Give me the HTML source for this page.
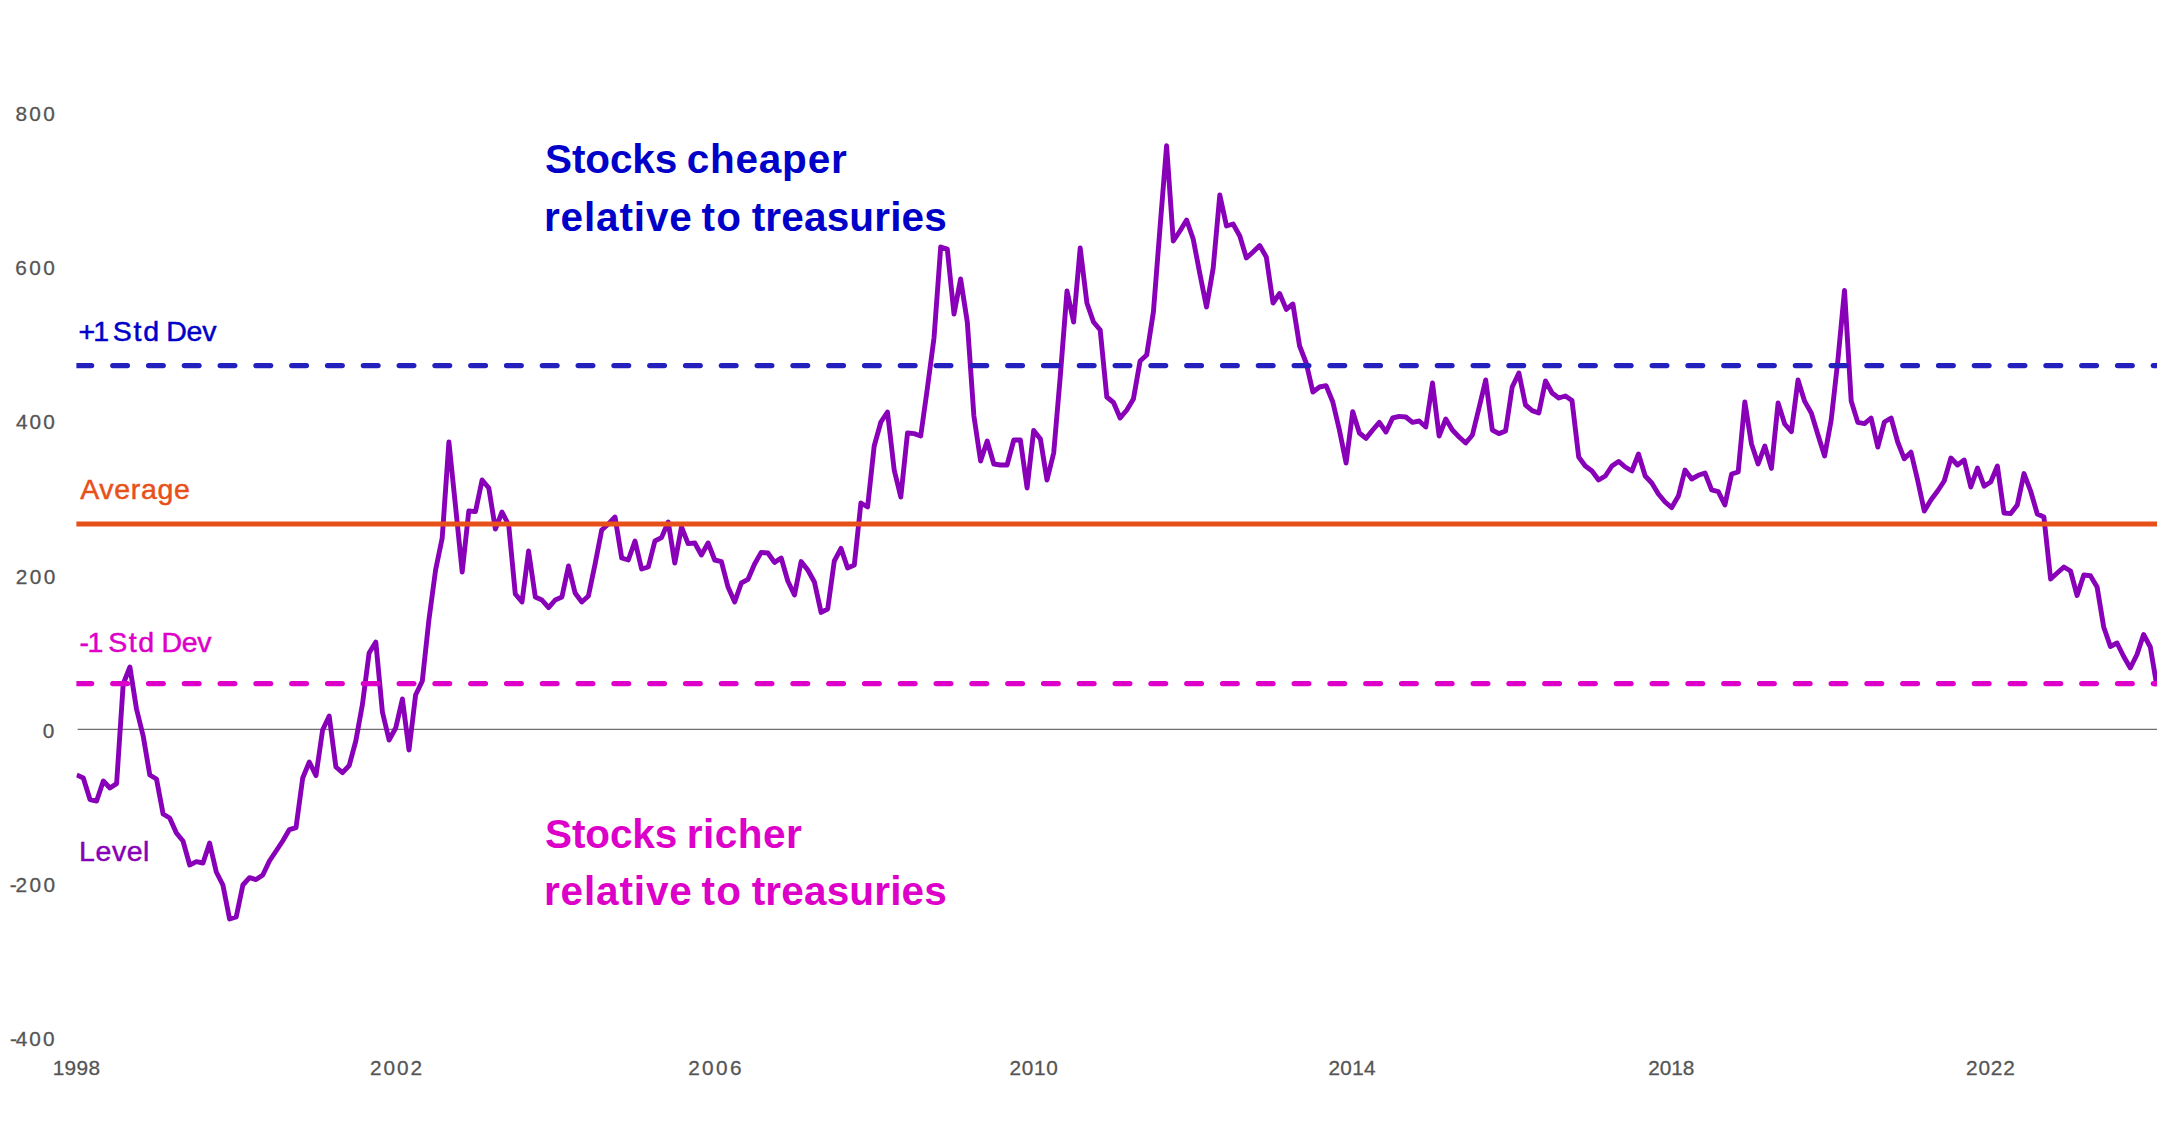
<!DOCTYPE html>
<html lang="en"><head><meta charset="utf-8"><title>Equity risk premium</title>
<style>
html,body{margin:0;padding:0;background:#fff;}
body{width:2160px;height:1131px;overflow:hidden;font-family:"Liberation Sans",sans-serif;}
svg{display:block;}
text{font-family:"Liberation Sans",sans-serif;white-space:pre;}
.ax{font-size:20.8px;stroke:#555555;stroke-width:0.3px;}
.lbl{font-size:28.5px;stroke-width:0.5px;}
.big{font-size:40.5px;font-weight:bold;}
</style></head><body>
<svg width="2160" height="1131" viewBox="0 0 2160 1131">
<defs><clipPath id="plot"><rect x="76.4" y="0" width="2080.6" height="1131"/></clipPath></defs>
<rect x="0" y="0" width="2160" height="1131" fill="#ffffff"/>
<line x1="77.6" y1="729.4" x2="2157" y2="729.4" stroke="#6e6e6e" stroke-width="1.4"/>
<text class="ax" y="121.2" fill="#555555"><tspan x="15.39" letter-spacing="2.387">800</tspan></text>
<text class="ax" y="275.3" fill="#555555"><tspan x="15.28" letter-spacing="2.444">600</tspan></text>
<text class="ax" y="429.4" fill="#555555"><tspan x="15.91" letter-spacing="2.13">400</tspan></text>
<text class="ax" y="583.5" fill="#555555"><tspan x="15.74" letter-spacing="2.413">200</tspan></text>
<text class="ax" y="737.6" fill="#555555"><tspan x="42.65" letter-spacing="0">0</tspan></text>
<text class="ax" x="9.74" y="891.7" fill="#555555"><tspan letter-spacing="-1.2">-</tspan><tspan letter-spacing="2.413">200</tspan></text>
<text class="ax" x="9.91" y="1045.8" fill="#555555"><tspan letter-spacing="-1.2">-</tspan><tspan letter-spacing="2.13">400</tspan></text>
<text class="ax" y="1075.4" fill="#555555"><tspan x="52.72" letter-spacing="0.324">1998</tspan></text>
<text class="ax" y="1075.4" fill="#555555"><tspan x="369.94" letter-spacing="1.932">2002</tspan></text>
<text class="ax" y="1075.4" fill="#555555"><tspan x="688.14" letter-spacing="2.37">2006</tspan></text>
<text class="ax" y="1075.4" fill="#555555"><tspan x="1009.44" letter-spacing="0.673">2010</tspan></text>
<text class="ax" y="1075.4" fill="#555555"><tspan x="1328.54" letter-spacing="0.258">2014</tspan></text>
<text class="ax" y="1075.4" fill="#555555"><tspan x="1648.14" letter-spacing="0.015">2018</tspan></text>
<text class="ax" y="1075.4" fill="#555555"><tspan x="1966.04" letter-spacing="0.799">2022</tspan></text>
<g clip-path="url(#plot)">
<polyline fill="none" stroke="#8800b8" stroke-width="4.9" stroke-linejoin="round" stroke-linecap="butt" points="76.7,775.0 83.3,778.0 90.0,799.6 96.6,801.0 103.3,781.0 109.9,788.0 116.6,783.6 123.2,684.0 129.9,667.0 136.5,709.0 143.2,736.0 149.8,775.0 156.5,779.0 163.1,814.0 169.7,818.0 176.4,833.0 183.0,841.0 189.7,865.0 196.3,861.6 203.0,863.0 209.6,843.0 216.3,872.0 222.9,885.0 229.6,919.0 236.2,917.0 242.9,885.0 249.5,877.6 256.1,879.6 262.8,875.0 269.4,861.0 276.1,851.0 282.7,841.0 289.4,829.6 296.0,827.6 302.7,778.0 309.3,762.0 316.0,775.6 322.6,730.0 329.2,716.0 335.9,767.0 342.5,772.6 349.2,765.5 355.8,741.0 362.5,704.0 369.1,653.0 375.8,642.0 382.4,712.0 389.1,740.0 395.7,728.0 402.4,699.0 409.0,750.0 415.6,695.0 422.3,681.0 428.9,620.0 435.6,570.0 442.2,538.0 448.9,442.0 455.5,506.0 462.2,572.0 468.8,511.0 475.5,511.6 482.1,480.0 488.8,488.0 495.4,529.0 502.0,512.0 508.7,525.0 515.3,594.0 522.0,602.0 528.6,551.0 535.3,597.0 541.9,600.0 548.6,607.6 555.2,600.0 561.9,597.0 568.5,566.0 575.1,593.0 581.8,602.0 588.4,596.0 595.1,564.0 601.7,530.0 608.4,524.0 615.0,517.0 621.7,558.0 628.3,560.0 635.0,541.0 641.6,569.0 648.3,567.0 654.9,541.0 661.5,537.6 668.2,522.0 674.8,563.0 681.5,527.0 688.1,543.6 694.8,543.0 701.4,555.0 708.1,543.0 714.7,560.0 721.4,561.6 728.0,587.0 734.7,602.0 741.3,583.0 747.9,579.4 754.6,564.0 761.2,552.4 767.9,553.0 774.5,562.4 781.2,558.0 787.8,581.0 794.5,595.0 801.1,561.6 807.8,570.0 814.4,582.0 821.1,612.4 827.7,609.0 834.3,561.0 841.0,548.4 847.6,568.0 854.3,565.0 860.9,503.0 867.6,507.0 874.2,446.0 880.9,422.0 887.5,412.0 894.2,470.0 900.8,497.0 907.5,433.0 914.1,433.6 920.7,436.0 927.4,388.0 934.0,338.0 940.7,247.0 947.3,249.0 954.0,314.0 960.6,279.0 967.3,322.0 973.9,416.0 980.6,461.0 987.2,441.0 993.8,464.0 1000.5,465.0 1007.1,465.0 1013.8,440.0 1020.4,440.0 1027.1,488.0 1033.7,430.4 1040.4,439.0 1047.0,480.0 1053.7,453.0 1060.3,376.0 1067.0,291.0 1073.6,322.0 1080.2,248.0 1086.9,303.0 1093.5,322.0 1100.2,330.0 1106.8,397.0 1113.5,402.5 1120.1,418.0 1126.8,410.0 1133.4,399.0 1140.1,361.0 1146.7,355.0 1153.4,312.0 1160.0,228.0 1166.6,145.8 1173.3,241.0 1179.9,231.0 1186.6,220.0 1193.2,239.0 1199.9,274.0 1206.5,307.0 1213.2,268.0 1219.8,195.0 1226.5,226.0 1233.1,224.0 1239.8,236.0 1246.4,258.0 1253.0,252.0 1259.7,245.6 1266.3,257.0 1273.0,303.0 1279.6,293.5 1286.3,309.4 1292.9,304.0 1299.6,346.0 1306.2,363.0 1312.9,392.0 1319.5,387.0 1326.1,385.6 1332.8,402.0 1339.4,430.0 1346.1,463.0 1352.7,411.6 1359.4,433.0 1366.0,438.4 1372.7,430.0 1379.3,422.4 1386.0,432.0 1392.6,418.0 1399.3,416.4 1405.9,417.0 1412.5,422.4 1419.2,421.0 1425.8,427.0 1432.5,383.0 1439.1,436.0 1445.8,419.0 1452.4,430.0 1459.1,437.0 1465.7,443.0 1472.4,435.0 1479.0,408.0 1485.7,380.0 1492.3,430.0 1498.9,433.6 1505.6,431.0 1512.2,387.0 1518.9,373.0 1525.5,405.0 1532.2,410.6 1538.8,413.0 1545.5,381.0 1552.1,393.0 1558.8,398.0 1565.4,396.0 1572.0,400.6 1578.7,457.0 1585.3,466.0 1592.0,471.0 1598.6,480.0 1605.3,476.0 1611.9,466.0 1618.6,461.4 1625.2,467.0 1631.9,471.0 1638.5,454.0 1645.2,476.0 1651.8,483.0 1658.4,494.0 1665.1,502.0 1671.7,507.6 1678.4,496.0 1685.0,470.0 1691.7,479.0 1698.3,475.3 1705.0,473.0 1711.6,489.8 1718.3,491.6 1724.9,505.0 1731.6,474.0 1738.2,472.0 1744.8,402.0 1751.5,444.0 1758.1,464.0 1764.8,446.0 1771.4,468.4 1778.1,403.0 1784.7,424.0 1791.4,431.6 1798.0,380.0 1804.7,401.4 1811.3,413.0 1818.0,435.0 1824.6,456.0 1831.2,420.0 1837.9,360.0 1844.5,290.5 1851.2,401.0 1857.8,422.4 1864.5,423.6 1871.1,418.0 1877.8,447.0 1884.4,422.0 1891.1,418.0 1897.7,442.0 1904.3,458.8 1911.0,452.2 1917.6,480.0 1924.3,511.0 1930.9,500.0 1937.6,491.0 1944.2,481.0 1950.9,458.0 1957.5,465.0 1964.2,460.0 1970.8,487.0 1977.5,468.0 1984.1,486.2 1990.7,482.0 1997.4,466.0 2004.0,513.0 2010.7,513.6 2017.3,505.0 2024.0,473.6 2030.6,491.0 2037.3,514.0 2043.9,517.0 2050.6,579.0 2057.2,573.0 2063.9,567.0 2070.5,571.0 2077.1,595.5 2083.8,575.0 2090.4,575.8 2097.1,587.0 2103.7,627.0 2110.4,646.5 2117.0,643.0 2123.7,656.5 2130.3,668.0 2137.0,654.5 2143.6,634.5 2150.3,647.0 2156.9,686.0"/>
<line x1="77" y1="365.6" x2="2170" y2="365.6" stroke="#2420be" stroke-width="5.4" stroke-linecap="round" stroke-dasharray="14.6 21.2"/>
<line x1="77" y1="683.6" x2="2170" y2="683.6" stroke="#dd00c8" stroke-width="5.4" stroke-linecap="round" stroke-dasharray="14.6 21.2"/>
<line x1="70" y1="524" x2="2165" y2="524" stroke="#e8501a" stroke-width="5.2"/>
</g>
<text class="lbl" y="341.0" fill="#0000c8" stroke="#0000c8"><tspan x="78.6" letter-spacing="-2.0">+1</tspan> <tspan x="112.83" letter-spacing="1.696">Std</tspan> <tspan x="166.14" letter-spacing="-0.101">Dev</tspan></text>
<text class="lbl" y="499.4" fill="#e8501a" stroke="#e8501a"><tspan x="80.21" letter-spacing="0.665">Average</tspan></text>
<text class="lbl" y="652.4" fill="#dd00c8" stroke="#dd00c8"><tspan x="79.61" letter-spacing="-1.6">-1</tspan> <tspan x="108.23" letter-spacing="1.496">Std</tspan> <tspan x="161.44" letter-spacing="-0.251">Dev</tspan></text>
<text class="lbl" y="860.5" fill="#8800b8" stroke="#8800b8"><tspan x="79.04" letter-spacing="0.573">Level</tspan></text>
<text class="big" y="173.3" fill="#0000c8"><tspan x="545.0" letter-spacing="-0.113">Stocks</tspan> <tspan x="686.69" letter-spacing="0.78">cheaper</tspan></text>
<text class="big" y="230.8" fill="#0000c8"><tspan x="543.9" letter-spacing="0.879">relative</tspan> <tspan x="701.59" letter-spacing="1.206">to</tspan> <tspan x="751.69" letter-spacing="0.169">treasuries</tspan></text>
<text class="big" y="847.5" fill="#dd00c8"><tspan x="545.0" letter-spacing="-0.113">Stocks</tspan> <tspan x="686.7" letter-spacing="0.526">richer</tspan></text>
<text class="big" y="904.5" fill="#dd00c8"><tspan x="543.9" letter-spacing="0.879">relative</tspan> <tspan x="701.59" letter-spacing="1.206">to</tspan> <tspan x="751.69" letter-spacing="0.169">treasuries</tspan></text>
</svg>
</body></html>
